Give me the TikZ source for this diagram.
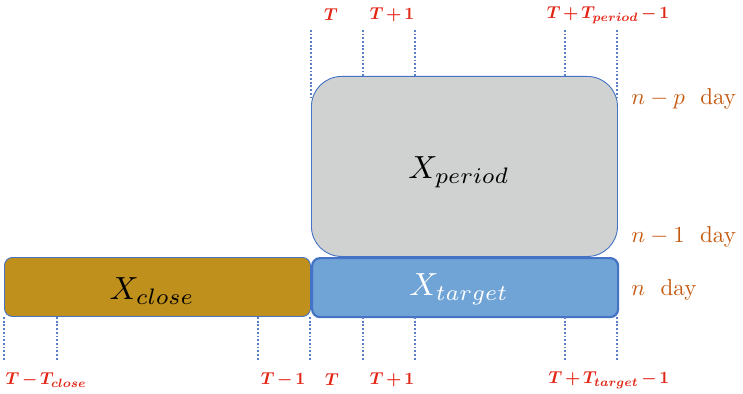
\documentclass[tikz,border=0pt]{standalone}
\usepackage{amsmath}
\definecolor{edgeblue}{RGB}{68,114,196}
\definecolor{tickblue}{RGB}{90,125,200}
\definecolor{goldfill}{RGB}{192,144,28}
\definecolor{targetfill}{RGB}{112,164,214}
\definecolor{periodfill}{RGB}{208,210,209}
\definecolor{labelred}{RGB}{226,38,22}
\definecolor{dayorange}{RGB}{197,90,17}
% time index typeset with tighter spacing around + and -
\newcommand{\tidx}[1]{$\medmuskip=2.5mu #1$}
\tikzset{
  block/.style={draw=edgeblue, line width=0.9pt, inner sep=0pt, anchor=north west},
  tick/.style={draw=tickblue, line width=1.6pt, dash pattern=on 1.8pt off 1.9pt},
  timelabel/.style={text=labelred, font=\normalsize\boldmath, scale=1.72, inner sep=0pt},
  daylabel/.style={text=dayorange, font=\normalsize, scale=2.3, inner sep=0pt, anchor=west},
  blocktext/.style={font=\normalsize, scale=3.2, inner sep=0pt}
}
\begin{document}
\begin{tikzpicture}[x=1pt,y=-1pt]
  \useasboundingbox (0,0) rectangle (743,393);

  % blocks
  \node[block, fill=periodfill, rounded corners=30pt, minimum width=306pt, minimum height=180pt] (period) at (311,76) {};
  \node[block, fill=goldfill, rounded corners=8pt, minimum width=306pt, minimum height=59pt] (close) at (4,257) {};
  \node[block, fill=targetfill, line width=2.2pt, rounded corners=8pt, minimum width=306pt, minimum height=59pt] (target) at (311,257) {};

  \node[blocktext] (xperiod) at (459,172) {$X_{period}$};
  \node[blocktext] (xclose) at (152,291) {$X_{close}$};
  \node[blocktext, text=white] (xtarget) at (459,289) {$X_{target}$};

  % upper ticks
  \foreach \n/\x/\yb in {ta/311/100, tb/363/76, tc/415/76, td/565/76, te/617/100} {
    \coordinate (\n top) at (\x,30);
    \coordinate (\n bot) at (\x,\yb);
    \draw[tick] (\n top) -- (\n bot);
  }

  % lower ticks
  \foreach \n/\x in {ba/4, bb/57, bc/258, bd/310, be/363, bf/415, bg/565, bh/617} {
    \coordinate (\n top) at (\x,317);
    \coordinate (\n bot) at (\x,360);
    \draw[tick] (\n top) -- (\n bot);
  }

  % time labels
  \node[timelabel] (lt1) at (331,15) {\tidx{T}};
  \node[timelabel] (lt2) at (392,15) {\tidx{T+1}};
  \node[timelabel] (lt3) at (608,15) {\tidx{T+T_{period}-1}};

  \node[timelabel] (lb1) at (46,380) {\tidx{T-T_{close}}};
  \node[timelabel] (lb2) at (283,380) {\tidx{T-1}};
  \node[timelabel] (lb3) at (332,380) {\tidx{T}};
  \node[timelabel] (lb4) at (392,380) {\tidx{T+1}};
  \node[timelabel] (lb5) at (609,380) {\tidx{T+T_{target}-1}};

  % day labels
  \node[daylabel] (d1) at (631,99) {$n-p$\ \ day};
  \node[daylabel] (d2) at (631,237) {$n-1$\ \ day};
  \node[daylabel] (d3) at (631,290) {$n$\ \ day};
\end{tikzpicture}
\end{document}
